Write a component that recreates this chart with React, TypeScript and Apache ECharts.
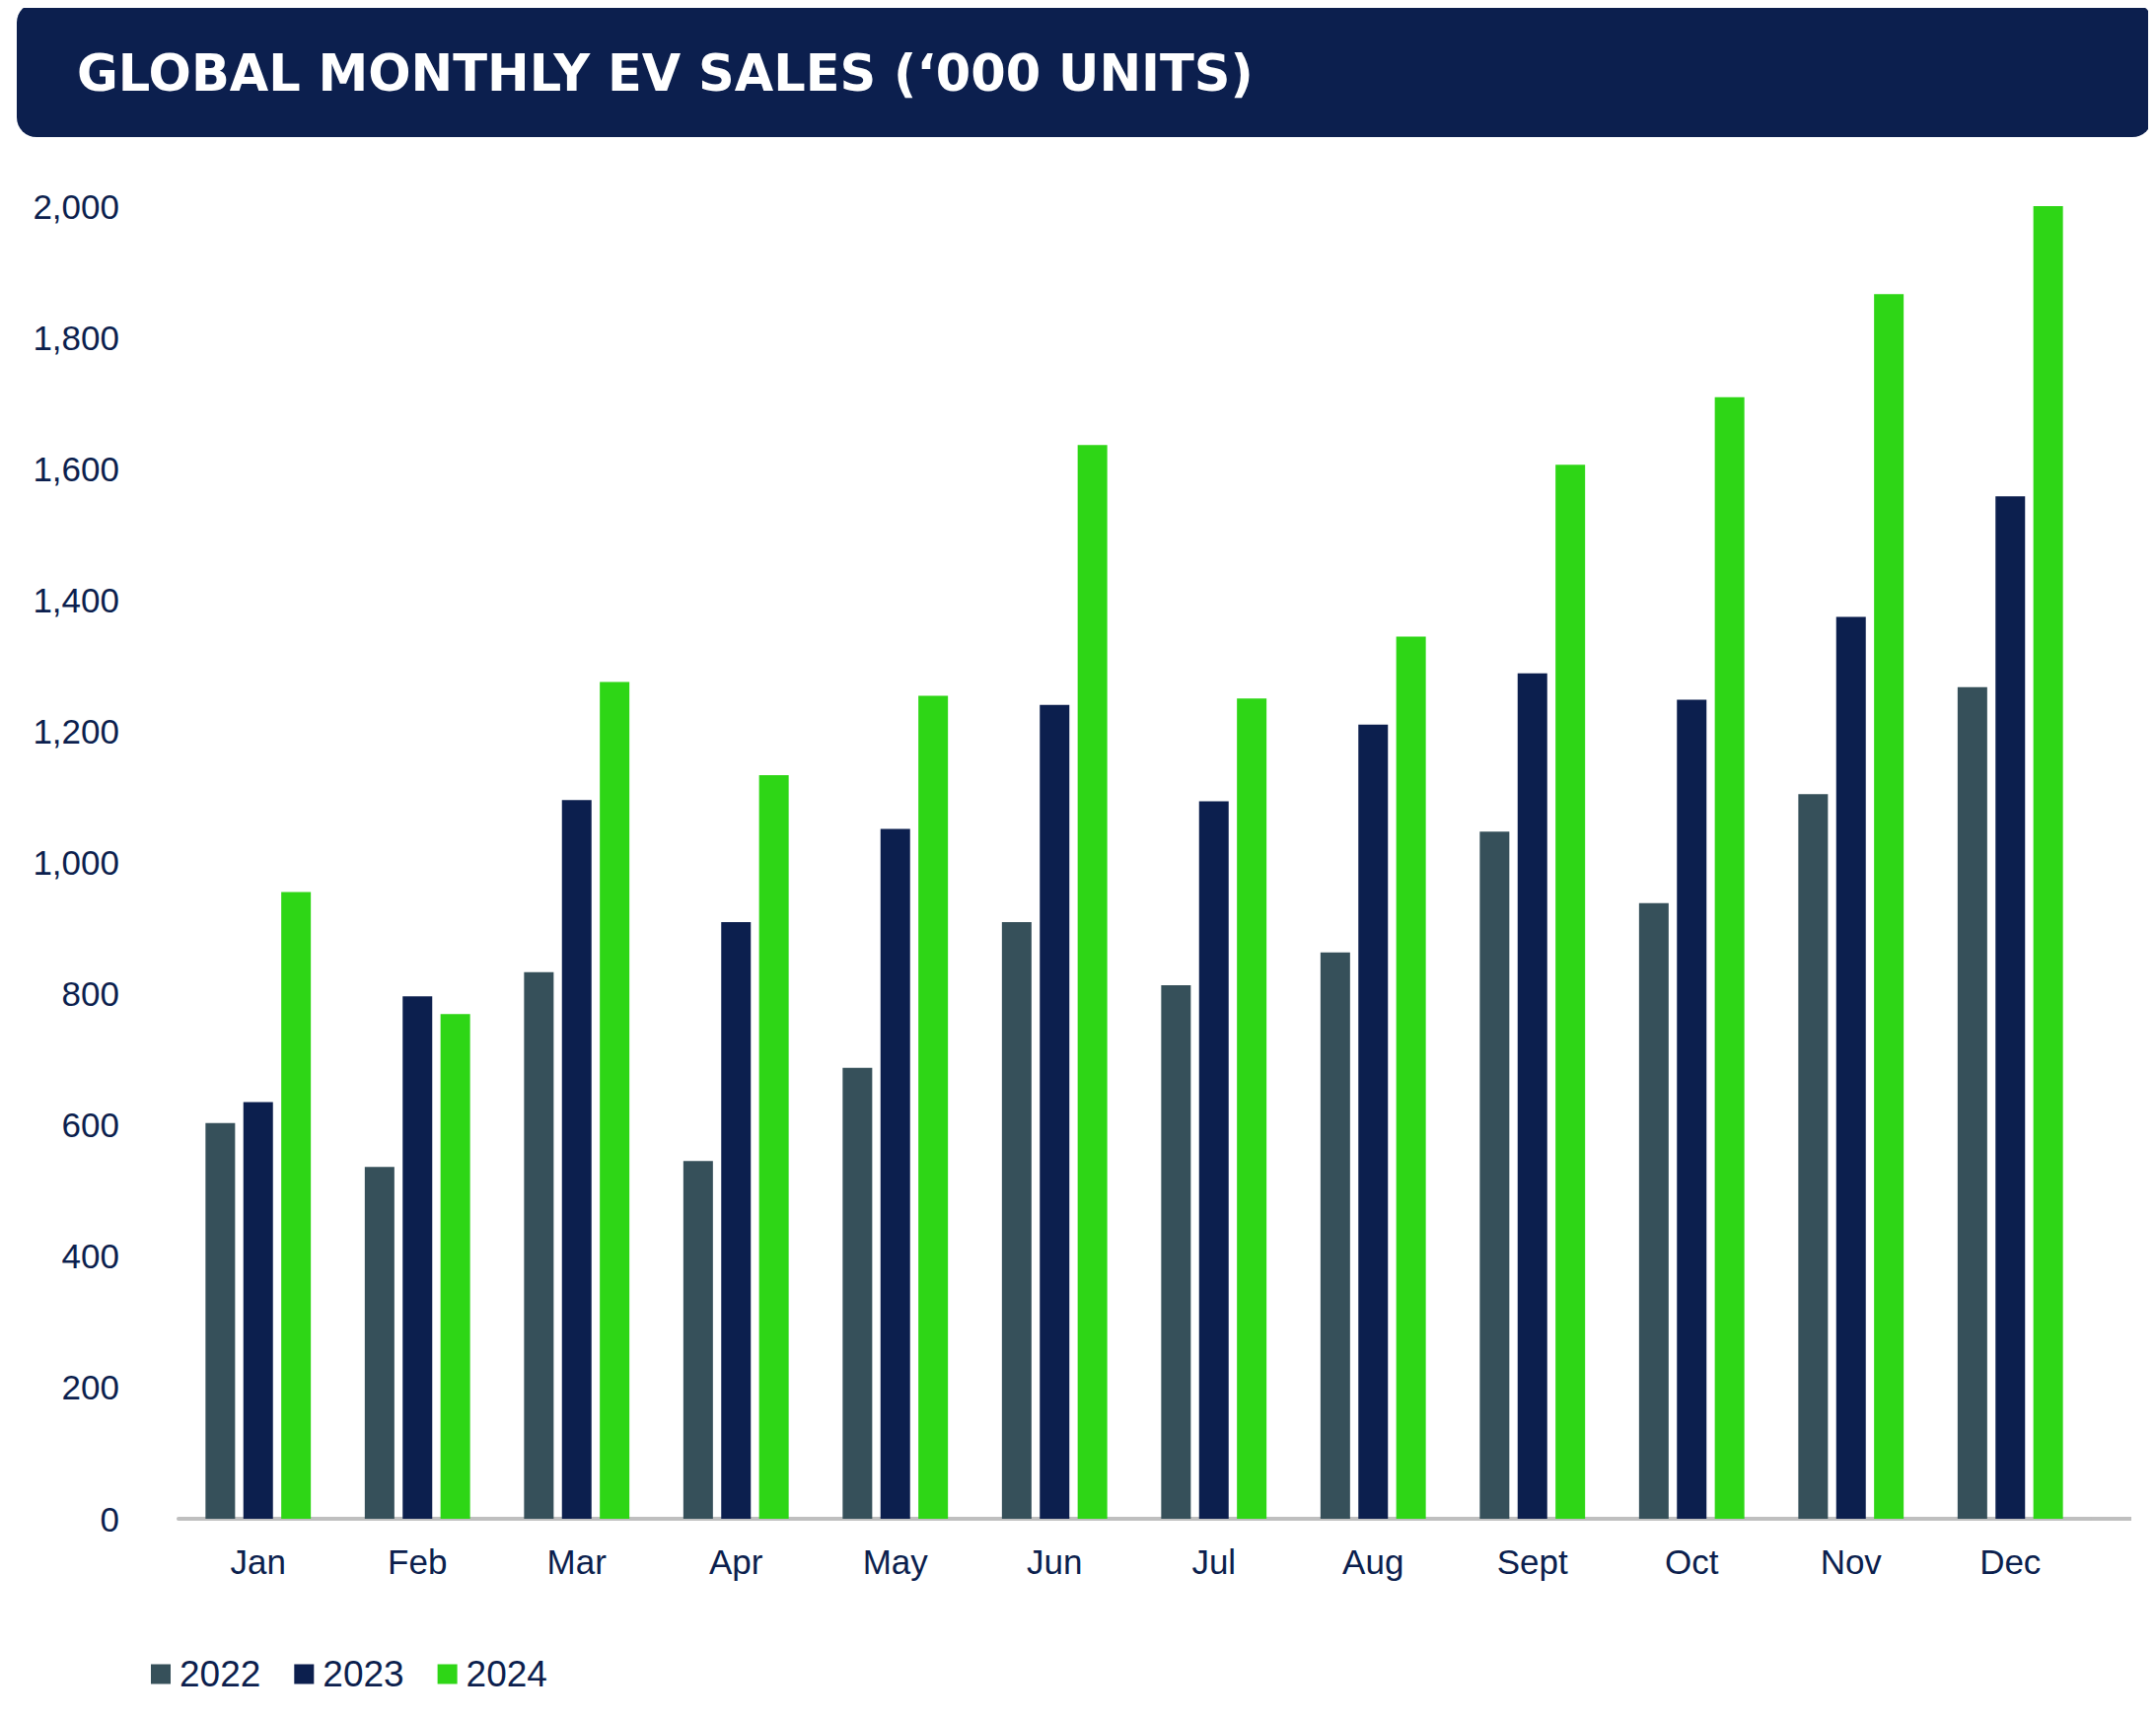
import React, { useEffect, useRef } from "react";
import * as echarts from "echarts";

const categories = ["Jan","Feb","Mar","Apr","May","Jun","Jul","Aug","Sept","Oct","Nov","Dec"];
const s2022 = [603,536,833,545,687,909,813,863,1047,938,1104,1267];
const s2023 = [635,796,1095,909,1051,1240,1093,1210,1288,1248,1374,1558];
const s2024 = [955,769,1275,1133,1254,1636,1250,1344,1606,1709,1866,2000];
const title = "GLOBAL MONTHLY EV SALES (‘000 UNITS)";

export default function App() {
  const ref = useRef<HTMLDivElement>(null);
  useEffect(() => {
    const chart = echarts.init(ref.current!, null, { renderer: "svg" });
    const font = "'Liberation Sans', Arial, sans-serif";
    const mk = (name: string, data: number[], color: string) => ({
      name, type: "bar", data, barWidth: 30, barGap: "28%",
      itemStyle: { color },
    });
    chart.setOption({
      animation: false,
      backgroundColor: "#fff",
      textStyle: { fontFamily: font },
      graphic: [
        { type: "rect", shape: { x: 9, y: -5, width: 2165, height: 136, r: 20 }, style: { fill: "#0c1f4e" } },
        { type: "text", x: 70, y: 66, style: { text: title, fill: "#fff", font: `bold 51px 'DejaVu Sans', sans-serif`, verticalAlign: "middle" } },
        { type: "line", shape: { x1: 2100, y1: 1532, x2: 2153, y2: 1532 }, style: { stroke: "#bfbfbf", lineWidth: 4 } },
      ],
      legend: {
        left: 140, top: 1666, itemWidth: 20, itemHeight: 20, itemGap: 34,
        icon: "rect",
        textStyle: { fontSize: 37, color: "#0c1f4e", fontFamily: font, padding: [0, 0, 0, 4] },
      },
      grid: { left: 173, right: 59, top: 201, bottom: 193 },
      xAxis: {
        type: "category", data: categories,
        axisLine: { lineStyle: { color: "#bfbfbf", width: 4 } },
        axisTick: { show: false },
        axisLabel: { fontSize: 35, color: "#0c1f4e", margin: 26, fontFamily: font },
      },
      yAxis: {
        type: "value", min: 0, max: 2000, interval: 200,
        splitLine: { show: false },
        axisLabel: {
          fontSize: 35, color: "#0c1f4e", margin: 60, fontFamily: font,
          formatter: (v: number) => v.toLocaleString("en-US"),
        },
      },
      series: [mk("2022", s2022, "#36505a"), mk("2023", s2023, "#0c1f4e"), mk("2024", s2024, "#2ed616")],
    });
    return () => chart.dispose();
  }, []);
  return <div ref={ref} style={{ width: 2170, height: 1725 }} />;
}
